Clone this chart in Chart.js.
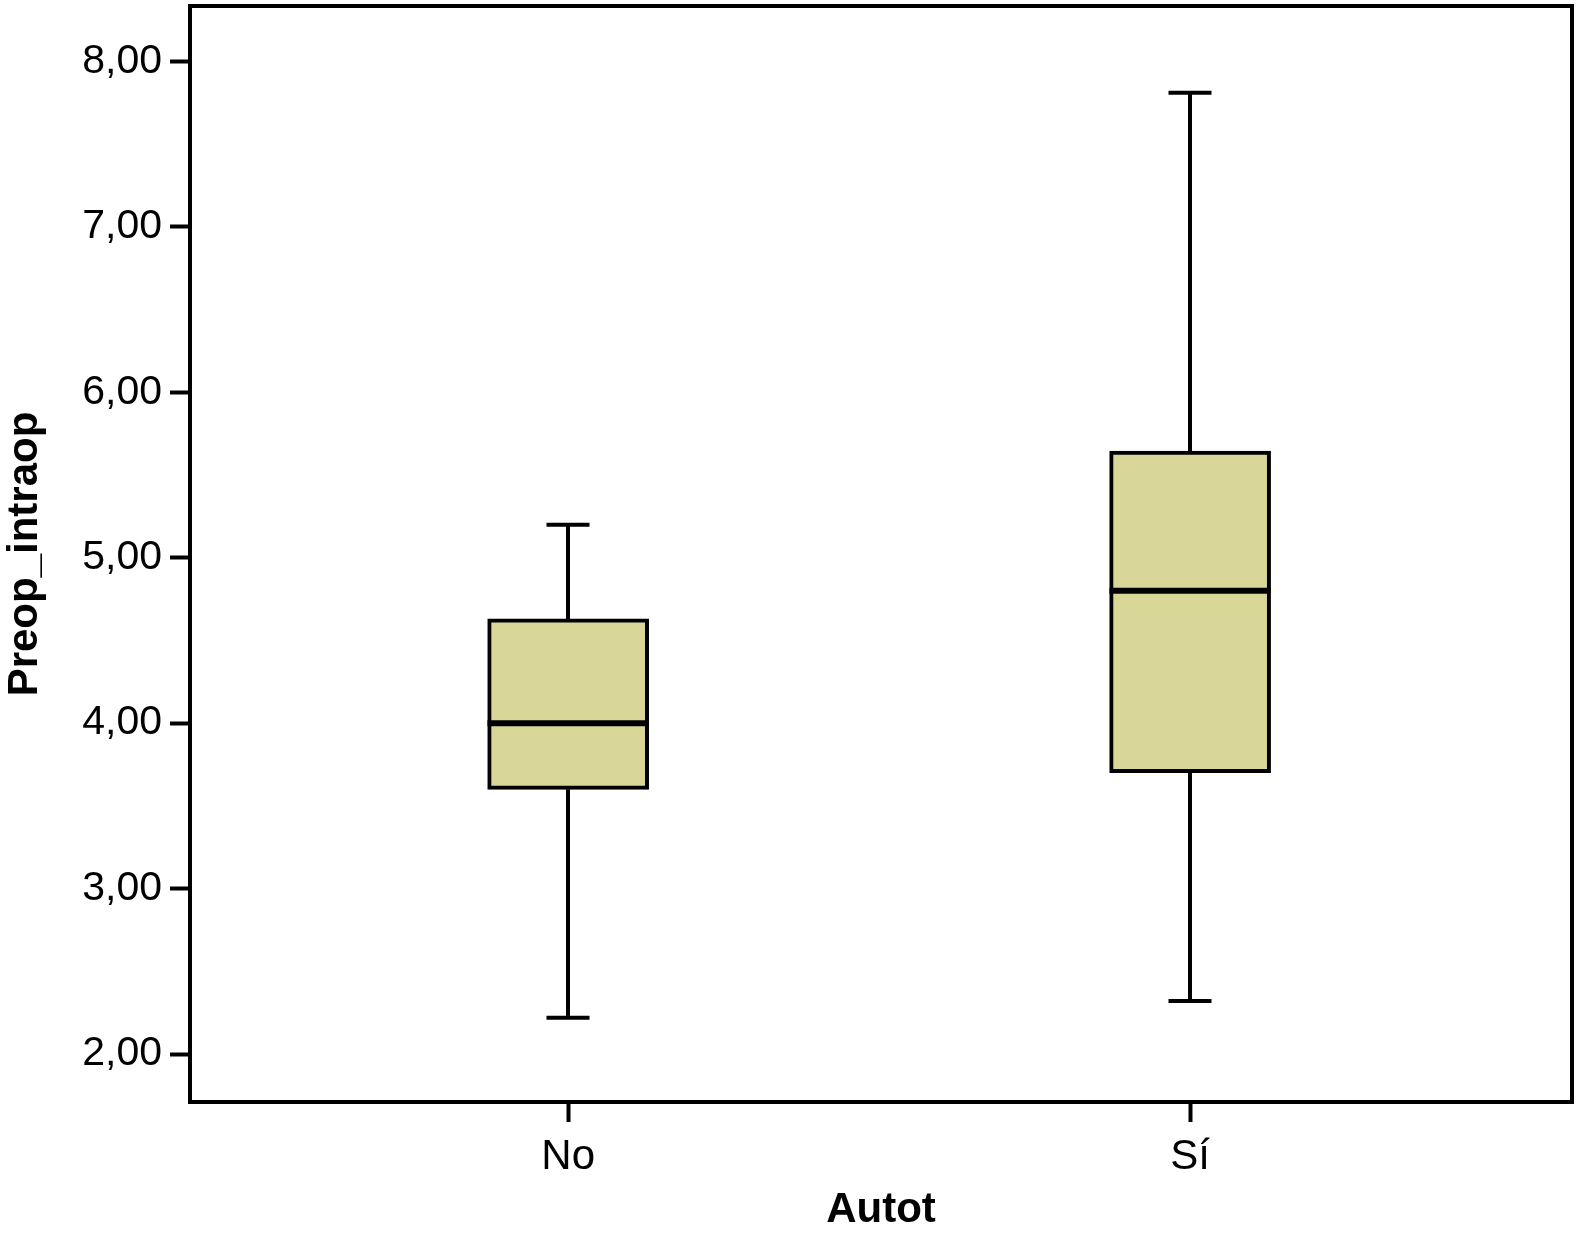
<!DOCTYPE html>
<html>
<head>
<meta charset="utf-8">
<script src="https://cdn.jsdelivr.net/npm/chart.js@4.4.1/dist/chart.umd.min.js"></script>
<style>
  html, body { margin: 0; padding: 0; background: #ffffff; }
  #wrap { width: 1576px; height: 1236px; position: relative; }
</style>
</head>
<body>
<div id="wrap"><canvas id="c"></canvas></div>
<script>
// ---- Data ----
const categories = ['No', 'Sí'];
const categoryPositions = [1, 2];
const whiskerLow  = [2.22, 2.32];
const q1          = [3.60, 3.70];
const median      = [4.00, 4.80];
const q3          = [4.63, 5.645];
const whiskerHigh = [5.20, 7.81];
const yTickValues = [2, 3, 4, 5, 6, 7, 8];

const boxFill = '#d9d798';
const ink = '#000000';
const BOX_PX = 161;
const CAP_PX = 43;

const boxData = categoryPositions.map((x, i) => ({ x: x, y: [q1[i], q3[i]] }));

const boxPlugin = {
  id: 'boxExtras',
  beforeDatasetsDraw(chart) {
    const ctx = chart.ctx, xs = chart.scales.x, ys = chart.scales.y;
    ctx.save();
    ctx.strokeStyle = ink;
    ctx.lineWidth = 4;
    ctx.lineCap = 'butt';
    categoryPositions.forEach((pos, i) => {
      const cx = Math.round(xs.getPixelForValue(pos));
      const yLo = ys.getPixelForValue(whiskerLow[i]);
      const yHi = ys.getPixelForValue(whiskerHigh[i]);
      const yQ1 = ys.getPixelForValue(q1[i]);
      const yQ3 = ys.getPixelForValue(q3[i]);
      ctx.beginPath();
      ctx.moveTo(cx, yQ3); ctx.lineTo(cx, yHi);
      ctx.moveTo(cx, yQ1); ctx.lineTo(cx, yLo);
      ctx.moveTo(cx - CAP_PX / 2, yHi); ctx.lineTo(cx + CAP_PX / 2, yHi);
      ctx.moveTo(cx - CAP_PX / 2, yLo); ctx.lineTo(cx + CAP_PX / 2, yLo);
      ctx.stroke();
    });
    ctx.restore();
  },
  afterDatasetsDraw(chart) {
    const ctx = chart.ctx, xs = chart.scales.x, ys = chart.scales.y;
    ctx.save();
    ctx.strokeStyle = ink;
    ctx.lineWidth = 6;
    categoryPositions.forEach((pos, i) => {
      const cx = Math.round(xs.getPixelForValue(pos));
      const ym = ys.getPixelForValue(median[i]);
      ctx.beginPath();
      ctx.moveTo(cx - BOX_PX / 2, ym); ctx.lineTo(cx + BOX_PX / 2, ym);
      ctx.stroke();
    });
    // plot frame
    const a = chart.chartArea;
    ctx.lineWidth = 4;
    ctx.strokeRect(a.left, a.top, a.right - a.left, a.bottom - a.top);
    ctx.restore();
  }
};

new Chart(document.getElementById('c'), {
  type: 'bar',
  data: {
    datasets: [{
      data: boxData,
      backgroundColor: boxFill,
      borderColor: ink,
      borderWidth: 4,
      borderSkipped: false,
      barThickness: BOX_PX
    }]
  },
  options: {
    responsive: true,
    maintainAspectRatio: false,
    animation: false,
    layout: { padding: { top: 6, right: 4, left: 0, bottom: 0 } },
    plugins: { legend: { display: false }, tooltip: { enabled: false } },
    scales: {
      x: {
        type: 'linear',
        offset: false,
        min: 0.392,
        max: 2.614,
        afterBuildTicks(scale) {
          scale.ticks = categoryPositions.map(v => ({ value: v }));
        },
        afterFit(scale) { scale.height = 134; scale.paddingLeft = 0; scale.paddingRight = 0; },
        ticks: {
          callback: (v) => categories[categoryPositions.indexOf(v)] ?? '',
          font: { family: 'Liberation Sans', size: 42 },
          color: ink,
          padding: 10,
          maxRotation: 0,
          autoSkip: false
        },
        grid: { offset: false, drawOnChartArea: false, drawTicks: true, tickLength: 20, tickWidth: 4, tickColor: ink, color: ink },
        border: { display: false },
        title: {
          display: true,
          text: 'Autot',
          font: { family: 'Liberation Sans', size: 42, weight: 'bold' },
          color: ink,
          padding: { top: 0, bottom: 0 }
        }
      },
      y: {
        type: 'linear',
        min: 1.71,
        max: 8.335,
        afterBuildTicks(scale) {
          scale.ticks = yTickValues.map(v => ({ value: v }));
        },
        afterFit(scale) { scale.width = 190; scale.paddingTop = 0; scale.paddingBottom = 0; },
        ticks: {
          callback: (v) => v.toFixed(2).replace('.', ','),
          font: { family: 'Liberation Sans', size: 41 },
          color: ink,
          padding: 8
        },
        grid: { drawOnChartArea: false, drawTicks: true, tickLength: 20, tickWidth: 4, tickColor: ink, color: ink },
        border: { display: false },
        title: {
          display: true,
          text: 'Preop_intraop',
          font: { family: 'Liberation Sans', size: 42, weight: 'bold' },
          color: ink,
          padding: { top: 0, bottom: 0 }
        }
      }
    }
  },
  plugins: [boxPlugin]
});
</script>
</body>
</html>
